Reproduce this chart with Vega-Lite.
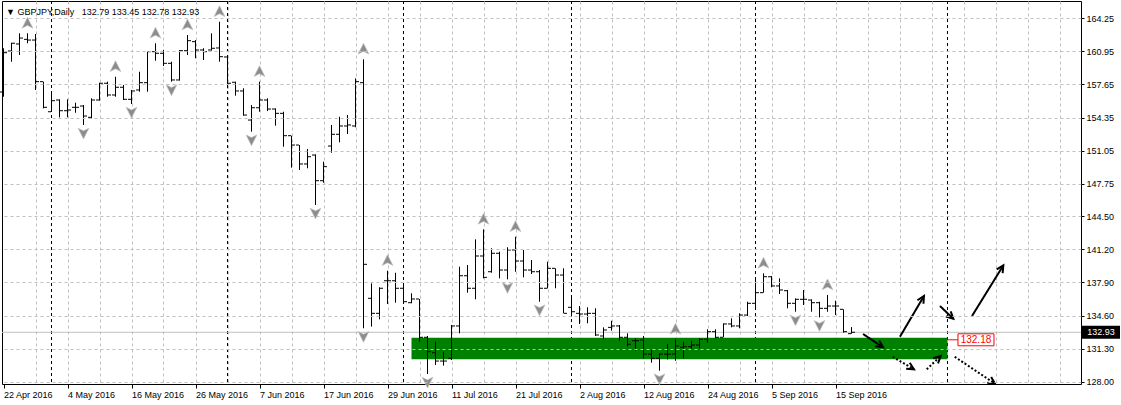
{
  "$schema": "https://vega.github.io/schema/vega-lite/v6.json",
  "width": 1079,
  "height": 383,
  "autosize": {"type": "none"},
  "padding": {"left": 2, "top": 1, "right": 40, "bottom": 21},
  "background": "#ffffff",
  "config": {
    "view": {"stroke": "#000000", "strokeWidth": 1},
    "font": "Liberation Sans",
    "axis": {"labelFont": "Liberation Sans", "labelFontSize": 9, "labelColor": "#000000", "tickColor": "#000000", "domain": false, "gridColor": "#c0c0c0", "gridDash": [3, 3], "gridWidth": 1, "labelOverlap": false}
  },
  "title": {"text": "▼ GBPJPY,Daily\u00a0\u00a0 132.79 133.45 132.78 132.93", "anchor": "start", "frame": "group", "orient": "top", "baseline": "top", "offset": -16, "dx": 4, "font": "Liberation Sans", "fontSize": 9, "fontWeight": "normal", "color": "#000000"},
  "datasets": {
    "bars": [
      {"i":0,"date":"2016-04-22","o":156.90,"h":161.26,"l":156.43,"c":160.82},
      {"i":1,"date":"2016-04-25","o":160.99,"h":161.82,"l":159.92,"c":161.76},
      {"i":2,"date":"2016-04-26","o":161.69,"h":162.75,"l":160.59,"c":162.28},
      {"i":3,"date":"2016-04-27","o":162.15,"h":162.75,"l":161.76,"c":162.08,"f":"u"},
      {"i":4,"date":"2016-04-28","o":162.08,"h":162.68,"l":157.10,"c":157.93},
      {"i":5,"date":"2016-04-29","o":157.93,"h":157.93,"l":155.27,"c":155.37},
      {"i":6,"date":"2016-05-02","o":154.93,"h":156.93,"l":154.93,"c":156.03},
      {"i":7,"date":"2016-05-03","o":156.10,"h":156.17,"l":154.37,"c":155.03},
      {"i":8,"date":"2016-05-04","o":155.03,"h":156.17,"l":154.37,"c":155.10},
      {"i":9,"date":"2016-05-05","o":155.37,"h":155.83,"l":154.83,"c":155.37},
      {"i":10,"date":"2016-05-06","o":155.50,"h":155.60,"l":153.61,"c":154.50,"f":"d"},
      {"i":11,"date":"2016-05-09","o":154.37,"h":156.27,"l":154.27,"c":156.10},
      {"i":12,"date":"2016-05-10","o":156.10,"h":157.83,"l":156.03,"c":157.77},
      {"i":13,"date":"2016-05-11","o":157.77,"h":157.93,"l":156.43,"c":156.60},
      {"i":14,"date":"2016-05-12","o":156.60,"h":158.42,"l":156.43,"c":157.37,"f":"u"},
      {"i":15,"date":"2016-05-13","o":157.37,"h":157.60,"l":156.10,"c":156.17},
      {"i":16,"date":"2016-05-16","o":156.17,"h":157.10,"l":155.70,"c":157.00,"f":"d"},
      {"i":17,"date":"2016-05-17","o":157.10,"h":158.92,"l":156.93,"c":157.83},
      {"i":18,"date":"2016-05-18","o":157.83,"h":160.92,"l":156.93,"c":160.92},
      {"i":19,"date":"2016-05-19","o":160.92,"h":161.76,"l":160.02,"c":160.76,"f":"u"},
      {"i":20,"date":"2016-05-20","o":160.76,"h":161.09,"l":159.49,"c":159.76},
      {"i":21,"date":"2016-05-23","o":159.76,"h":159.92,"l":157.93,"c":158.10,"f":"d"},
      {"i":22,"date":"2016-05-24","o":158.10,"h":161.09,"l":158.03,"c":161.02},
      {"i":23,"date":"2016-05-25","o":161.02,"h":162.58,"l":160.59,"c":162.02,"f":"u"},
      {"i":24,"date":"2016-05-26","o":161.92,"h":162.08,"l":160.26,"c":161.09},
      {"i":25,"date":"2016-05-27","o":161.09,"h":161.26,"l":160.09,"c":160.92},
      {"i":26,"date":"2016-05-30","o":161.09,"h":162.75,"l":161.02,"c":161.26},
      {"i":27,"date":"2016-05-31","o":161.29,"h":163.91,"l":159.92,"c":160.42,"f":"u"},
      {"i":28,"date":"2016-06-01","o":160.39,"h":160.52,"l":157.27,"c":157.77},
      {"i":29,"date":"2016-06-02","o":157.87,"h":157.93,"l":156.53,"c":157.00},
      {"i":30,"date":"2016-06-03","o":157.00,"h":157.27,"l":154.53,"c":154.60},
      {"i":31,"date":"2016-06-06","o":154.10,"h":155.60,"l":152.94,"c":155.33,"f":"d"},
      {"i":32,"date":"2016-06-07","o":155.33,"h":157.93,"l":154.93,"c":156.10,"f":"u"},
      {"i":33,"date":"2016-06-08","o":156.10,"h":156.27,"l":155.00,"c":155.20},
      {"i":34,"date":"2016-06-09","o":155.20,"h":155.27,"l":153.54,"c":154.77},
      {"i":35,"date":"2016-06-10","o":154.77,"h":154.93,"l":151.44,"c":152.54},
      {"i":36,"date":"2016-06-13","o":152.54,"h":152.54,"l":149.35,"c":151.61},
      {"i":37,"date":"2016-06-14","o":151.61,"h":151.61,"l":149.12,"c":149.72},
      {"i":38,"date":"2016-06-15","o":149.72,"h":151.21,"l":149.29,"c":150.44},
      {"i":39,"date":"2016-06-16","o":150.61,"h":150.68,"l":145.63,"c":148.05,"f":"d"},
      {"i":40,"date":"2016-06-17","o":148.05,"h":149.95,"l":147.85,"c":149.45},
      {"i":41,"date":"2016-06-20","o":151.51,"h":153.61,"l":150.84,"c":152.68},
      {"i":42,"date":"2016-06-21","o":152.68,"h":154.43,"l":151.88,"c":153.51},
      {"i":43,"date":"2016-06-22","o":153.51,"h":154.60,"l":152.71,"c":153.61},
      {"i":44,"date":"2016-06-23","o":153.51,"h":158.26,"l":153.38,"c":157.93},
      {"i":45,"date":"2016-06-24","o":157.83,"h":160.16,"l":133.33,"c":139.71,"f":"b"},
      {"i":46,"date":"2016-06-27","o":136.32,"h":137.81,"l":133.50,"c":134.82},
      {"i":47,"date":"2016-06-28","o":134.82,"h":137.42,"l":134.22,"c":137.32},
      {"i":48,"date":"2016-06-29","o":138.07,"h":139.07,"l":135.75,"c":138.07,"f":"u"},
      {"i":49,"date":"2016-06-30","o":138.07,"h":138.87,"l":135.88,"c":137.32},
      {"i":50,"date":"2016-07-01","o":137.32,"h":137.65,"l":135.82,"c":135.98},
      {"i":51,"date":"2016-07-04","o":135.88,"h":136.82,"l":135.82,"c":136.25},
      {"i":52,"date":"2016-07-05","o":136.25,"h":136.25,"l":131.99,"c":132.43},
      {"i":53,"date":"2016-07-06","o":132.43,"h":132.56,"l":128.77,"c":131.00,"f":"d"},
      {"i":54,"date":"2016-07-07","o":130.89,"h":131.99,"l":129.67,"c":130.06},
      {"i":55,"date":"2016-07-08","o":130.06,"h":131.00,"l":129.60,"c":130.06},
      {"i":56,"date":"2016-07-11","o":130.33,"h":133.66,"l":130.16,"c":133.56},
      {"i":57,"date":"2016-07-12","o":133.56,"h":139.47,"l":132.83,"c":138.57},
      {"i":58,"date":"2016-07-13","o":138.57,"h":139.64,"l":136.88,"c":137.32},
      {"i":59,"date":"2016-07-14","o":137.32,"h":142.20,"l":136.22,"c":140.54},
      {"i":60,"date":"2016-07-15","o":140.54,"h":143.20,"l":138.31,"c":138.41,"f":"u"},
      {"i":61,"date":"2016-07-18","o":138.97,"h":141.31,"l":138.87,"c":140.81},
      {"i":62,"date":"2016-07-19","o":140.81,"h":140.97,"l":138.31,"c":139.14},
      {"i":63,"date":"2016-07-20","o":139.14,"h":141.41,"l":138.21,"c":141.14,"f":"d"},
      {"i":64,"date":"2016-07-21","o":141.14,"h":142.46,"l":138.97,"c":140.04,"f":"u"},
      {"i":65,"date":"2016-07-22","o":140.04,"h":141.14,"l":138.41,"c":139.14},
      {"i":66,"date":"2016-07-25","o":139.14,"h":140.14,"l":138.74,"c":138.97},
      {"i":67,"date":"2016-07-26","o":138.97,"h":139.14,"l":135.98,"c":137.32,"f":"d"},
      {"i":68,"date":"2016-07-27","o":137.32,"h":139.97,"l":137.30,"c":139.31},
      {"i":69,"date":"2016-07-28","o":139.31,"h":139.31,"l":137.32,"c":138.64},
      {"i":70,"date":"2016-07-29","o":138.64,"h":139.31,"l":134.82,"c":134.82},
      {"i":71,"date":"2016-08-01","o":135.42,"h":136.48,"l":134.48,"c":134.98},
      {"i":72,"date":"2016-08-02","o":134.82,"h":135.55,"l":133.75,"c":134.75},
      {"i":73,"date":"2016-08-03","o":134.75,"h":135.42,"l":133.83,"c":134.82},
      {"i":74,"date":"2016-08-04","o":134.82,"h":135.32,"l":132.56,"c":132.66},
      {"i":75,"date":"2016-08-05","o":132.56,"h":133.42,"l":132.23,"c":133.16},
      {"i":76,"date":"2016-08-08","o":133.42,"h":134.08,"l":133.09,"c":133.56},
      {"i":77,"date":"2016-08-09","o":133.56,"h":133.66,"l":132.09,"c":132.43},
      {"i":78,"date":"2016-08-10","o":132.43,"h":132.83,"l":131.49,"c":131.73},
      {"i":79,"date":"2016-08-11","o":132.09,"h":132.33,"l":131.09,"c":132.09},
      {"i":80,"date":"2016-08-12","o":132.16,"h":132.56,"l":130.33,"c":130.76},
      {"i":81,"date":"2016-08-15","o":130.76,"h":131.16,"l":129.90,"c":130.33},
      {"i":82,"date":"2016-08-16","o":130.33,"h":130.83,"l":129.10,"c":130.76,"f":"d"},
      {"i":83,"date":"2016-08-17","o":130.76,"h":131.76,"l":130.23,"c":130.76},
      {"i":84,"date":"2016-08-18","o":130.76,"h":132.23,"l":130.09,"c":131.56,"f":"u"},
      {"i":85,"date":"2016-08-19","o":131.43,"h":131.99,"l":130.33,"c":131.49},
      {"i":86,"date":"2016-08-22","o":131.49,"h":132.09,"l":131.16,"c":131.66},
      {"i":87,"date":"2016-08-23","o":131.66,"h":132.33,"l":131.33,"c":132.23},
      {"i":88,"date":"2016-08-24","o":132.23,"h":133.23,"l":131.89,"c":132.99},
      {"i":89,"date":"2016-08-25","o":132.99,"h":133.23,"l":132.33,"c":132.43},
      {"i":90,"date":"2016-08-26","o":132.43,"h":133.83,"l":132.43,"c":133.76},
      {"i":91,"date":"2016-08-29","o":133.76,"h":134.32,"l":133.42,"c":133.56},
      {"i":92,"date":"2016-08-30","o":133.56,"h":134.82,"l":133.33,"c":134.65},
      {"i":93,"date":"2016-08-31","o":134.65,"h":135.98,"l":134.55,"c":135.82},
      {"i":94,"date":"2016-09-01","o":135.82,"h":138.31,"l":135.15,"c":136.88},
      {"i":95,"date":"2016-09-02","o":136.88,"h":138.81,"l":136.88,"c":138.47,"f":"u"},
      {"i":96,"date":"2016-09-05","o":138.47,"h":138.54,"l":137.42,"c":137.55},
      {"i":97,"date":"2016-09-06","o":137.55,"h":138.31,"l":136.75,"c":137.15},
      {"i":98,"date":"2016-09-07","o":137.08,"h":137.15,"l":135.32,"c":135.82},
      {"i":99,"date":"2016-09-08","o":135.82,"h":136.32,"l":134.98,"c":136.22,"f":"d"},
      {"i":100,"date":"2016-09-09","o":136.22,"h":137.15,"l":135.65,"c":136.22},
      {"i":101,"date":"2016-09-12","o":136.15,"h":136.22,"l":134.98,"c":135.88},
      {"i":102,"date":"2016-09-13","o":135.88,"h":135.98,"l":134.42,"c":135.32,"f":"d"},
      {"i":103,"date":"2016-09-14","o":135.32,"h":136.65,"l":134.98,"c":135.55,"f":"u"},
      {"i":104,"date":"2016-09-15","o":135.55,"h":136.08,"l":134.65,"c":135.55},
      {"i":105,"date":"2016-09-16","o":135.22,"h":135.22,"l":132.89,"c":132.99},
      {"i":106,"date":"2016-09-19","o":132.79,"h":133.45,"l":132.78,"c":132.93}
    ],
    "seps": [{"i":6,"month":"May"},{"i":28,"month":"Jun"},{"i":50,"month":"Jul"},{"i":71,"month":"Aug"},{"i":94,"month":"Sep"},{"i":118,"month":"Oct"}],
    "zone": [{"start":51,"end":118,"top":132.39,"bottom":130.23}],
    "zlabel": [{"from":118,"to":119.3,"at":121.56,"price":132.18,"text":"132.18"}],
    "last": [{"price":132.93,"text":"132.93"}],
    "arrows": [
      {"xa":107.44,"pa":132.76,"xb":109.94,"pb":131.43,"style":"solid"},
      {"xa":112.06,"pa":132.49,"xb":115.06,"pb":136.55,"style":"solid"},
      {"xa":111.15,"pa":130.49,"xb":113.81,"pb":129.24,"style":"dotted"},
      {"xa":115.4,"pa":129.24,"xb":117.15,"pb":130.56,"style":"dotted"},
      {"xa":117.06,"pa":135.55,"xb":118.73,"pb":134.28,"style":"solid"},
      {"xa":121.06,"pa":134.55,"xb":124.98,"pb":139.61,"style":"solid"},
      {"xa":118.9,"pa":130.49,"xb":123.94,"pb":127.8,"style":"dotted"}
    ]
  },
  "layer": [
    {
      "data": {"name": "seps"},
      "mark": {"type": "rule", "color": "#000000", "strokeWidth": 1, "strokeDash": [3, 3]},
      "encoding": {
        "x": {"field": "i", "type": "quantitative", "scale": {"domain": [-0.1875, 134.6875], "nice": false, "zero": false},
          "axis": {"title": null, "tickCount": 200, "values": [0,4,8,12,16,20,24,28,32,36,40,44,48,52,56,60,64,68,72,76,80,84,88,92,96,100,104,108,112,116,120,124,128,132],
            "labelExpr": "(datum.value % 8 == 0 && datum.value <= 104) ? ['22 Apr 2016','4 May 2016','16 May 2016','26 May 2016','7 Jun 2016','17 Jun 2016','29 Jun 2016','11 Jul 2016','21 Jul 2016','2 Aug 2016','12 Aug 2016','24 Aug 2016','5 Sep 2016','15 Sep 2016'][datum.value / 8] : ''",
            "labelAlign": "left", "labelDx": -1, "labelFlush": false, "labelOverlap": false, "labelPadding": 2, "tickSize": 4,
            "tickOpacity": {"condition": {"test": "datum.value % 8 == 0 && datum.value <= 104", "value": 1}, "value": 0},
            "gridOpacity": {"condition": {"test": "datum.value == 0", "value": 0}, "value": 1},
            "grid": true, "zindex": 0}}
      }
    },
    {
      "data": {"name": "zone"},
      "mark": {"type": "rect", "color": "#008000"},
      "encoding": {
        "x": {"field": "start", "type": "quantitative", "scale": {"domain": [-0.1875, 134.6875], "nice": false, "zero": false}, "title": null},
        "x2": {"field": "end"},
        "y": {"field": "top", "type": "quantitative", "scale": {"domain": [127.771, 165.976], "nice": false, "zero": false},
          "axis": {"title": null, "orient": "right", "tickCount": 200, "values": [164.25,160.95,157.65,154.35,151.05,147.75,144.5,141.2,137.9,134.6,131.3,128], "format": ".2f", "tickSize": 3, "labelPadding": 2, "labelOverlap": false, "labelFlush": false, "grid": true, "zindex": 1, "labelBaseline": "middle"}},
        "y2": {"field": "bottom"}
      }
    },
    {
      "data": {"name": "last"},
      "mark": {"type": "rule", "color": "#c0c0c0", "strokeWidth": 1},
      "encoding": {
        "y": {"field": "price", "type": "quantitative", "scale": {"domain": [127.771, 165.976], "nice": false, "zero": false}, "title": null}
      }
    },
    {
      "data": {"name": "bars"},
      "mark": {"type": "rule", "color": "#000000", "strokeWidth": 1},
      "encoding": {
        "x": {"field": "i", "type": "quantitative", "scale": {"domain": [-0.1875, 134.6875], "nice": false, "zero": false}, "title": null},
        "y": {"field": "l", "type": "quantitative", "scale": {"domain": [127.771, 165.976], "nice": false, "zero": false}, "title": null},
        "y2": {"field": "h"}
      }
    },
    {
      "data": {"name": "bars"},
      "mark": {"type": "rule", "color": "#000000", "strokeWidth": 1, "xOffset": -3.5, "x2Offset": -0.5},
      "encoding": {
        "x": {"field": "i", "type": "quantitative", "scale": {"domain": [-0.1875, 134.6875], "nice": false, "zero": false}, "title": null},
        "x2": {"field": "i"},
        "y": {"field": "o", "type": "quantitative", "scale": {"domain": [127.771, 165.976], "nice": false, "zero": false}, "title": null}
      }
    },
    {
      "data": {"name": "bars"},
      "mark": {"type": "rule", "color": "#000000", "strokeWidth": 1, "xOffset": 0.5, "x2Offset": 3.5},
      "encoding": {
        "x": {"field": "i", "type": "quantitative", "scale": {"domain": [-0.1875, 134.6875], "nice": false, "zero": false}, "title": null},
        "x2": {"field": "i"},
        "y": {"field": "c", "type": "quantitative", "scale": {"domain": [127.771, 165.976], "nice": false, "zero": false}, "title": null}
      }
    },
    {
      "data": {"name": "bars"},
      "transform": [{"filter": "datum.f == 'u' || datum.f == 'b'"}],
      "mark": {"type": "point", "shape": "M0,-1 L0.9,0.8 L0,0.35 L-0.9,0.8 Z", "size": 144, "filled": true, "fill": "#8c8c8c", "stroke": "#c4c4c4", "strokeWidth": 0.7, "opacity": 1, "yOffset": -10},
      "encoding": {
        "x": {"field": "i", "type": "quantitative", "scale": {"domain": [-0.1875, 134.6875], "nice": false, "zero": false}, "title": null},
        "y": {"field": "h", "type": "quantitative", "scale": {"domain": [127.771, 165.976], "nice": false, "zero": false}, "title": null}
      }
    },
    {
      "data": {"name": "bars"},
      "transform": [{"filter": "datum.f == 'd' || datum.f == 'b'"}],
      "mark": {"type": "point", "shape": "M0,1 L0.9,-0.8 L0,-0.35 L-0.9,-0.8 Z", "size": 144, "filled": true, "fill": "#8c8c8c", "stroke": "#c4c4c4", "strokeWidth": 0.7, "opacity": 1, "yOffset": 8},
      "encoding": {
        "x": {"field": "i", "type": "quantitative", "scale": {"domain": [-0.1875, 134.6875], "nice": false, "zero": false}, "title": null},
        "y": {"field": "l", "type": "quantitative", "scale": {"domain": [127.771, 165.976], "nice": false, "zero": false}, "title": null}
      }
    },
    {
      "data": {"name": "arrows"},
      "mark": {"type": "rule", "color": "#000000", "strokeWidth": 2},
      "encoding": {
        "x": {"field": "xa", "type": "quantitative", "scale": {"domain": [-0.1875, 134.6875], "nice": false, "zero": false}, "title": null},
        "x2": {"field": "xb"},
        "y": {"field": "pa", "type": "quantitative", "scale": {"domain": [127.771, 165.976], "nice": false, "zero": false}, "title": null},
        "y2": {"field": "pb"},
        "strokeDash": {"field": "style", "type": "nominal", "scale": {"domain": ["solid", "dotted"], "range": [[1, 0], [2, 2]]}, "legend": null}
      }
    },
    {
      "data": {"name": "arrows"},
      "transform": [{"calculate": "atan2((datum.xb - datum.xa) * 8, (datum.pb - datum.pa) * 10.025) * 180 / PI", "as": "ang"}],
      "mark": {"type": "point", "shape": "M-0.5,1 L0,0 L0.5,1", "size": 196, "filled": false, "color": "#000000", "strokeWidth": 2, "opacity": 1},
      "encoding": {
        "x": {"field": "xb", "type": "quantitative", "scale": {"domain": [-0.1875, 134.6875], "nice": false, "zero": false}, "title": null},
        "y": {"field": "pb", "type": "quantitative", "scale": {"domain": [127.771, 165.976], "nice": false, "zero": false}, "title": null},
        "angle": {"field": "ang", "type": "quantitative", "scale": null}
      }
    },
    {
      "data": {"name": "zlabel"},
      "mark": {"type": "rule", "color": "#ff0000", "strokeWidth": 1},
      "encoding": {
        "x": {"field": "from", "type": "quantitative", "scale": {"domain": [-0.1875, 134.6875], "nice": false, "zero": false}, "title": null},
        "x2": {"field": "to"},
        "y": {"field": "price", "type": "quantitative", "scale": {"domain": [127.771, 165.976], "nice": false, "zero": false}, "title": null}
      }
    },
    {
      "data": {"name": "zlabel"},
      "mark": {"type": "point", "shape": "M-1,-0.333 L1,-0.333 L1,0.333 L-1,0.333 Z", "size": 1296, "filled": true, "fill": "#ffffff", "stroke": "#ff0000", "strokeWidth": 1, "opacity": 1},
      "encoding": {
        "x": {"field": "at", "type": "quantitative", "scale": {"domain": [-0.1875, 134.6875], "nice": false, "zero": false}, "title": null},
        "y": {"field": "price", "type": "quantitative", "scale": {"domain": [127.771, 165.976], "nice": false, "zero": false}, "title": null}
      }
    },
    {
      "data": {"name": "zlabel"},
      "mark": {"type": "text", "color": "#ff0000", "font": "Liberation Sans", "fontSize": 10, "align": "center", "baseline": "middle"},
      "encoding": {
        "x": {"field": "at", "type": "quantitative", "scale": {"domain": [-0.1875, 134.6875], "nice": false, "zero": false}, "title": null},
        "y": {"field": "price", "type": "quantitative", "scale": {"domain": [127.771, 165.976], "nice": false, "zero": false}, "title": null},
        "text": {"field": "text"}
      }
    },
    {
      "data": {"name": "last"},
      "mark": {"type": "point", "shape": "M-1,-0.34 L1,-0.34 L1,0.34 L-1,0.34 Z", "size": 1444, "filled": true, "fill": "#000000", "strokeWidth": 0, "opacity": 1, "xOffset": 20},
      "encoding": {
        "x": {"value": "width"},
        "y": {"field": "price", "type": "quantitative", "scale": {"domain": [127.771, 165.976], "nice": false, "zero": false}, "title": null}
      }
    },
    {
      "data": {"name": "last"},
      "mark": {"type": "text", "color": "#ffffff", "font": "Liberation Sans", "fontSize": 9, "align": "center", "baseline": "middle", "xOffset": 20},
      "encoding": {
        "x": {"value": "width"},
        "y": {"field": "price", "type": "quantitative", "scale": {"domain": [127.771, 165.976], "nice": false, "zero": false}, "title": null},
        "text": {"field": "text"}
      }
    }
  ]
}
